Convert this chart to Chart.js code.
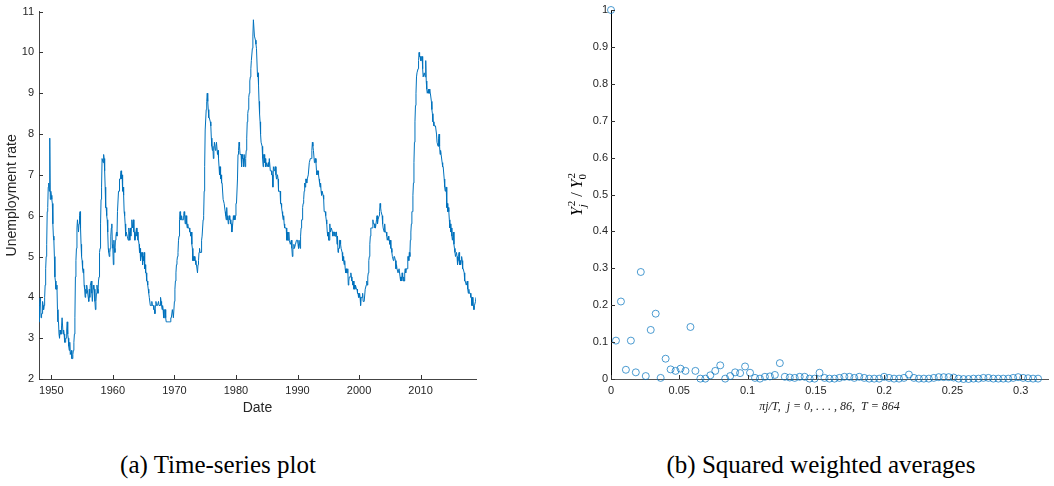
<!DOCTYPE html>
<html>
<head>
  <meta name="viewport" content="width=device-width, initial-scale=1.0">
  <title>Unemployment rate and squared weighted averages</title>
  <script src="https://cdn.jsdelivr.net/npm/chart.js"></script>
  <style>
    body {
      margin: 0;
      padding: 0;
      background: #fff;
      width: 1054px;
      height: 486px;
      position: relative;
      overflow: hidden;
    }
    .panel {
      position: absolute;
      top: 0;
    }
    .caption {
      position: absolute;
      top: 451px;
      font-family: "Liberation Serif", "DejaVu Serif", serif;
      font-size: 25px;
      color: #000;
      white-space: nowrap;
      transform: translateX(-50%);
    }
  </style>
</head>
<body>
  <canvas id="tsChart" class="panel" width="500" height="430" style="left:0"></canvas>
  <canvas id="avgChart" class="panel" width="514" height="430" style="left:540px"></canvas>
  <div class="caption" style="left:218px">(a) Time-series plot</div>
  <div class="caption" style="left:821px">(b) Squared weighted averages</div>

  <script>
    // monthly unemployment rate, Jan 1948 .. Jan 2019
    const startYear = 1948;
    const unrate = [
      3.4, 3.8, 4.0, 3.9, 3.5, 3.6, 3.6, 3.9, 3.8, 3.7, 3.8, 4.0,   // 1948
      4.3, 4.7, 5.0, 5.3, 6.1, 6.2, 6.7, 6.8, 6.6, 7.9, 6.4, 6.6,   // 1949
      6.5, 6.4, 6.3, 5.8, 5.5, 5.4, 5.0, 4.5, 4.4, 4.2, 4.2, 4.3,   // 1950
      3.7, 3.4, 3.4, 3.1, 3.0, 3.2, 3.1, 3.1, 3.3, 3.5, 3.5, 3.1,   // 1951
      3.2, 3.1, 2.9, 2.9, 3.0, 3.0, 3.2, 3.4, 3.1, 3.0, 2.8, 2.7,   // 1952
      2.9, 2.6, 2.6, 2.7, 2.5, 2.5, 2.6, 2.7, 2.9, 3.1, 3.5, 4.5,   // 1953
      4.9, 5.2, 5.7, 5.9, 5.9, 5.6, 5.8, 6.0, 6.1, 5.7, 5.3, 5.0,   // 1954
      4.9, 4.7, 4.6, 4.7, 4.3, 4.2, 4.0, 4.2, 4.1, 4.3, 4.2, 4.2,   // 1955
      4.0, 3.9, 4.2, 4.0, 4.3, 4.3, 4.4, 4.1, 3.9, 3.9, 4.3, 4.2,   // 1956
      4.2, 3.9, 3.7, 3.9, 4.1, 4.3, 4.2, 4.1, 4.4, 4.5, 5.1, 5.2,   // 1957
      5.8, 6.4, 6.7, 7.4, 7.4, 7.3, 7.5, 7.4, 7.1, 6.7, 6.2, 6.2,   // 1958
      6.0, 5.9, 5.6, 5.2, 5.1, 5.0, 5.1, 5.2, 5.5, 5.7, 5.8, 5.3,   // 1959
      5.2, 4.8, 5.4, 5.2, 5.1, 5.4, 5.5, 5.6, 5.5, 6.1, 6.1, 6.6,   // 1960
      6.6, 6.9, 6.9, 7.0, 7.1, 6.9, 7.0, 6.6, 6.7, 6.5, 6.1, 6.0,   // 1961
      5.8, 5.5, 5.6, 5.6, 5.5, 5.5, 5.4, 5.7, 5.6, 5.4, 5.7, 5.5,   // 1962
      5.7, 5.9, 5.7, 5.7, 5.9, 5.6, 5.6, 5.4, 5.5, 5.5, 5.7, 5.5,   // 1963
      5.6, 5.4, 5.4, 5.3, 5.1, 5.2, 4.9, 5.0, 5.1, 5.1, 4.8, 5.0,   // 1964
      4.9, 5.1, 4.7, 4.8, 4.6, 4.6, 4.4, 4.4, 4.3, 4.2, 4.1, 4.0,   // 1965
      4.0, 3.8, 3.8, 3.8, 3.9, 3.8, 3.8, 3.8, 3.7, 3.7, 3.6, 3.8,   // 1966
      3.9, 3.8, 3.8, 3.8, 3.8, 3.9, 3.8, 3.8, 3.8, 4.0, 3.9, 3.8,   // 1967
      3.7, 3.8, 3.7, 3.5, 3.5, 3.7, 3.7, 3.5, 3.4, 3.4, 3.4, 3.4,   // 1968
      3.4, 3.4, 3.4, 3.4, 3.4, 3.5, 3.5, 3.5, 3.7, 3.7, 3.5, 3.5,   // 1969
      3.9, 4.2, 4.4, 4.6, 4.8, 4.9, 5.0, 5.1, 5.4, 5.5, 5.9, 6.1,   // 1970
      5.9, 5.9, 6.0, 5.9, 5.9, 5.9, 6.0, 6.1, 6.0, 5.8, 6.0, 6.0,   // 1971
      5.8, 5.7, 5.8, 5.7, 5.7, 5.7, 5.6, 5.6, 5.5, 5.6, 5.3, 5.2,   // 1972
      4.9, 5.0, 4.9, 5.0, 4.9, 4.9, 4.8, 4.8, 4.8, 4.6, 4.8, 4.9,   // 1973
      5.1, 5.2, 5.1, 5.1, 5.1, 5.4, 5.5, 5.5, 5.9, 6.0, 6.6, 7.2,   // 1974
      8.1, 8.1, 8.6, 8.8, 9.0, 8.8, 8.6, 8.4, 8.4, 8.4, 8.3, 8.2,   // 1975
      7.9, 7.7, 7.6, 7.7, 7.4, 7.6, 7.8, 7.8, 7.6, 7.7, 7.8, 7.8,   // 1976
      7.5, 7.6, 7.4, 7.2, 7.0, 7.2, 6.9, 7.0, 6.8, 6.8, 6.8, 6.4,   // 1977
      6.4, 6.3, 6.3, 6.1, 6.0, 5.9, 6.2, 5.9, 6.0, 5.8, 5.9, 6.0,   // 1978
      5.9, 5.9, 5.8, 5.8, 5.6, 5.7, 5.7, 6.0, 5.9, 6.0, 5.9, 6.0,   // 1979
      6.3, 6.3, 6.3, 6.9, 7.5, 7.6, 7.8, 7.7, 7.5, 7.5, 7.5, 7.2,   // 1980
      7.5, 7.4, 7.4, 7.2, 7.5, 7.5, 7.2, 7.4, 7.6, 7.9, 8.3, 8.5,   // 1981
      8.6, 8.9, 9.0, 9.3, 9.4, 9.6, 9.8, 9.8, 10.1, 10.4, 10.8, 10.8, // 1982
      10.4, 10.4, 10.3, 10.2, 10.1, 10.1, 9.4, 9.5, 9.2, 8.8, 8.5, 8.3, // 1983
      8.0, 7.8, 7.8, 7.7, 7.4, 7.2, 7.5, 7.5, 7.3, 7.4, 7.2, 7.3,   // 1984
      7.3, 7.2, 7.2, 7.3, 7.2, 7.4, 7.4, 7.1, 7.1, 7.1, 7.0, 7.0,   // 1985
      6.7, 7.2, 7.2, 7.1, 7.2, 7.2, 7.0, 6.9, 7.0, 7.0, 6.9, 6.6,   // 1986
      6.6, 6.6, 6.6, 6.3, 6.3, 6.2, 6.1, 6.0, 5.9, 6.0, 5.8, 5.7,   // 1987
      5.7, 5.7, 5.7, 5.4, 5.6, 5.4, 5.4, 5.6, 5.4, 5.4, 5.3, 5.3,   // 1988
      5.4, 5.2, 5.0, 5.2, 5.2, 5.3, 5.2, 5.2, 5.3, 5.3, 5.4, 5.4,   // 1989
      5.4, 5.3, 5.2, 5.4, 5.4, 5.2, 5.5, 5.7, 5.9, 5.9, 6.2, 6.3,   // 1990
      6.4, 6.6, 6.8, 6.7, 6.9, 6.9, 6.8, 6.9, 6.9, 7.0, 7.0, 7.3,   // 1991
      7.3, 7.4, 7.4, 7.4, 7.6, 7.8, 7.7, 7.6, 7.6, 7.3, 7.4, 7.4,   // 1992
      7.3, 7.1, 7.0, 7.1, 7.1, 7.0, 6.9, 6.8, 6.7, 6.8, 6.6, 6.5,   // 1993
      6.6, 6.6, 6.5, 6.4, 6.1, 6.1, 6.1, 6.0, 5.9, 5.8, 5.6, 5.5,   // 1994
      5.6, 5.4, 5.4, 5.8, 5.6, 5.6, 5.7, 5.7, 5.6, 5.5, 5.6, 5.6,   // 1995
      5.6, 5.5, 5.5, 5.6, 5.6, 5.3, 5.5, 5.1, 5.2, 5.2, 5.4, 5.4,   // 1996
      5.3, 5.2, 5.2, 5.1, 4.9, 5.0, 4.9, 4.8, 4.9, 4.7, 4.6, 4.7,   // 1997
      4.6, 4.6, 4.7, 4.3, 4.4, 4.5, 4.5, 4.5, 4.6, 4.5, 4.4, 4.4,   // 1998
      4.3, 4.4, 4.2, 4.3, 4.2, 4.3, 4.3, 4.2, 4.2, 4.1, 4.1, 4.0,   // 1999
      4.0, 4.1, 4.0, 3.8, 4.0, 4.0, 4.0, 4.1, 3.9, 3.9, 3.9, 3.9,   // 2000
      4.2, 4.2, 4.3, 4.4, 4.3, 4.5, 4.6, 4.9, 5.0, 5.3, 5.5, 5.7,   // 2001
      5.7, 5.7, 5.7, 5.9, 5.8, 5.8, 5.8, 5.7, 5.7, 5.7, 5.9, 6.0,   // 2002
      5.8, 5.9, 5.9, 6.0, 6.1, 6.3, 6.2, 6.1, 6.1, 6.0, 5.8, 5.7,   // 2003
      5.7, 5.6, 5.8, 5.6, 5.6, 5.6, 5.5, 5.4, 5.4, 5.5, 5.4, 5.4,   // 2004
      5.3, 5.4, 5.2, 5.2, 5.1, 5.0, 5.0, 4.9, 5.0, 5.0, 5.0, 4.9,   // 2005
      4.7, 4.8, 4.7, 4.7, 4.6, 4.6, 4.7, 4.7, 4.5, 4.4, 4.5, 4.4,   // 2006
      4.6, 4.5, 4.4, 4.5, 4.4, 4.6, 4.7, 4.6, 4.7, 4.7, 4.7, 5.0,   // 2007
      5.0, 4.9, 5.1, 5.0, 5.4, 5.6, 5.8, 6.1, 6.1, 6.5, 6.8, 7.3,   // 2008
      7.8, 8.3, 8.7, 9.0, 9.4, 9.5, 9.5, 9.6, 9.8, 10.0, 9.9, 9.9,  // 2009
      9.8, 9.8, 9.9, 9.9, 9.6, 9.4, 9.4, 9.5, 9.5, 9.4, 9.8, 9.3,   // 2010
      9.1, 9.0, 9.0, 9.1, 9.0, 9.1, 9.0, 9.0, 9.0, 8.8, 8.6, 8.5,   // 2011
      8.3, 8.3, 8.2, 8.2, 8.2, 8.2, 8.2, 8.0, 7.8, 7.8, 7.7, 7.9,   // 2012
      8.0, 7.7, 7.5, 7.6, 7.5, 7.5, 7.3, 7.2, 7.2, 7.2, 6.9, 6.7,   // 2013
      6.6, 6.7, 6.7, 6.2, 6.3, 6.1, 6.2, 6.1, 5.9, 5.7, 5.8, 5.6,   // 2014
      5.7, 5.5, 5.4, 5.4, 5.6, 5.3, 5.2, 5.1, 5.0, 5.0, 5.1, 5.0,   // 2015
      4.8, 4.9, 5.0, 5.1, 4.8, 4.9, 4.8, 4.9, 5.0, 4.9, 4.7, 4.7,   // 2016
      4.7, 4.6, 4.4, 4.4, 4.4, 4.3, 4.3, 4.4, 4.2, 4.1, 4.2, 4.1,   // 2017
      4.1, 4.1, 4.0, 4.0, 3.8, 4.0, 3.8, 3.8, 3.7, 3.8, 3.8, 3.9,   // 2018
      4.0                                                          // 2019
    ];
    const yearTicks = [1950, 1960, 1970, 1980, 1990, 2000, 2010];
    const rateTicks = [2, 3, 4, 5, 6, 7, 8, 9, 10, 11];

    // squared weighted averages Y_j^2 / Y_0^2, j = 0..86, T = 864
    const T = 864;
    const ratio = [
      1.000, 0.104, 0.210, 0.025, 0.104, 0.018, 0.290, 0.008, 0.133, 0.177,
      0.003, 0.055, 0.026, 0.022, 0.028, 0.022, 0.141, 0.022, 0.001, 0.001,
      0.010, 0.022, 0.037, 0.001, 0.008, 0.018, 0.016, 0.034, 0.017, 0.003,
      0.001, 0.006, 0.007, 0.011, 0.043, 0.006, 0.004, 0.003, 0.006, 0.006,
      0.001, 0.001, 0.017, 0.003, 0.001, 0.001, 0.003, 0.006, 0.006, 0.003,
      0.006, 0.003, 0.001, 0.001, 0.001, 0.006, 0.003, 0.001, 0.001, 0.003,
      0.012, 0.003, 0.001, 0.001, 0.001, 0.003, 0.005, 0.005, 0.005, 0.004,
      0.001, 0.000, 0.000, 0.001, 0.001, 0.003, 0.003, 0.001, 0.001, 0.001,
      0.001, 0.003, 0.005, 0.003, 0.002, 0.001, 0.001
    ];
    const freqTicks = [0, 0.05, 0.1, 0.15, 0.2, 0.25, 0.3];
    const ratioTicks = [0, 0.1, 0.2, 0.3, 0.4, 0.5, 0.6, 0.7, 0.8, 0.9, 1];

    const lineColor = '#0072BD';
    const textColor = '#262626';
    const sans = "'Liberation Sans', Arial, sans-serif";
    const serif = "'Liberation Serif', 'DejaVu Serif', serif";

    // MATLAB style tick marks, pointing into the plot
    const inwardTicks = {
      id: 'inwardTicks',
      afterDatasetsDraw(chart) {
        const {ctx, chartArea, scales} = chart;
        ctx.save();
        ctx.strokeStyle = '#333';
        ctx.lineWidth = 1;
        scales.x.ticks.forEach(t => {
          const px = Math.round(scales.x.getPixelForValue(t.value)) + 0.5;
          ctx.beginPath();
          ctx.moveTo(px, chartArea.bottom);
          ctx.lineTo(px, chartArea.bottom - 4);
          ctx.stroke();
        });
        scales.y.ticks.forEach(t => {
          const py = Math.round(scales.y.getPixelForValue(t.value)) + 0.5;
          ctx.beginPath();
          ctx.moveTo(chartArea.left, py);
          ctx.lineTo(chartArea.left + 4, py);
          ctx.stroke();
        });
        ctx.restore();
      }
    };

    function fixedTicks(list) {
      return scale => { scale.ticks = list.map(v => ({value: v})); };
    }

    // left: time series
    new Chart(document.getElementById('tsChart'), {
      type: 'line',
      data: {
        datasets: [{
          data: unrate.map((v, i) => ({x: startYear + i / 12, y: v})),
          borderColor: lineColor,
          borderWidth: 1,
          pointRadius: 0,
          tension: 0
        }]
      },
      options: {
        responsive: false,
        animation: false,
        devicePixelRatio: 1,
        layout: {padding: {top: 10, right: 24, bottom: 0, left: 0}},
        plugins: {legend: {display: false}, tooltip: {enabled: false}},
        scales: {
          x: {
            type: 'linear',
            min: startYear,
            max: startYear + (unrate.length - 1) / 12,
            afterBuildTicks: fixedTicks(yearTicks),
            afterFit: s => { s.height = 51; },
            grid: {display: true, drawOnChartArea: false, drawTicks: false},
            border: {display: true, color: '#444', width: 1},
            ticks: {
              padding: 5, color: textColor, font: {family: sans, size: 11},
              maxRotation: 0, callback: v => String(v)
            },
            title: {
              display: true, text: 'Date', color: textColor,
              font: {family: sans, size: 14}, padding: {top: 0, bottom: 13}
            }
          },
          y: {
            min: 2,
            max: 11,
            afterBuildTicks: fixedTicks(rateTicks),
            afterFit: s => { s.width = 39; },
            grid: {display: true, drawOnChartArea: false, drawTicks: false},
            border: {display: true, color: '#444', width: 1},
            ticks: {padding: 5, color: textColor, font: {family: sans, size: 11}},
            title: {
              display: true, text: 'Unemployment rate', color: textColor,
              font: {family: sans, size: 14}, padding: {top: 4, bottom: 0}
            }
          }
        }
      },
      plugins: [inwardTicks]
    });

    // rotated math label Y_j^2 / Y_0^2
    const mathLabel = {
      id: 'mathLabel',
      afterDraw(chart) {
        const ctx = chart.ctx;
        const big = 'italic 16px ' + serif;
        const small = '11px ' + serif;
        const smallIt = 'italic 11px ' + serif;
        const parts = [
          {t: 'Y', f: big, dy: 0},
          {t: '2', f: small, dy: -7, stack: 'j', sf: smallIt},
          {t: ' / ', f: '16px ' + serif, dy: 0},
          {t: 'Y', f: big, dy: 0},
          {t: '2', f: small, dy: -7, stack: '0', sf: small}
        ];
        ctx.save();
        let width = 0;
        parts.forEach(p => { ctx.font = p.f; p.w = ctx.measureText(p.t).width + (p.stack ? 1 : 0); width += p.w; });
        const cy = (chart.chartArea.top + chart.chartArea.bottom) / 2;
        ctx.translate(37, cy);
        ctx.rotate(-Math.PI / 2);
        ctx.fillStyle = '#000';
        ctx.textBaseline = 'alphabetic';
        let x = -width / 2;
        parts.forEach(p => {
          ctx.font = p.f;
          ctx.fillText(p.t, x + (p.stack ? 1 : 0), 5 + p.dy);
          if (p.stack) {
            ctx.font = p.sf;
            ctx.fillText(p.stack, x, 5 + 4);
          }
          x += p.w;
        });
        ctx.restore();
      }
    };

    // right: squared weighted averages
    new Chart(document.getElementById('avgChart'), {
      type: 'scatter',
      data: {
        datasets: [{
          data: ratio.map((v, j) => ({x: Math.PI * j / T, y: v})),
          borderColor: 'rgba(0, 114, 189, 0.7)',
          backgroundColor: 'rgba(0, 0, 0, 0)',
          borderWidth: 1,
          pointRadius: 3.5,
          clip: false
        }]
      },
      options: {
        responsive: false,
        animation: false,
        devicePixelRatio: 1,
        layout: {padding: {top: 10, right: 6, bottom: 0, left: 0}},
        plugins: {legend: {display: false}, tooltip: {enabled: false}},
        scales: {
          x: {
            type: 'linear',
            min: 0,
            max: 0.32,
            afterBuildTicks: fixedTicks(freqTicks),
            afterFit: s => { s.height = 51; },
            grid: {display: true, drawOnChartArea: false, drawTicks: false},
            border: {display: true, color: '#555', width: 1},
            ticks: {
              padding: 5, color: textColor, font: {family: sans, size: 11},
              maxRotation: 0, callback: v => String(v)
            },
            title: {
              display: true, text: 'πj/T,  j = 0, . . . , 86,  T = 864', color: '#222',
              font: {family: serif, size: 12, style: 'italic'}, padding: {top: 0, bottom: 16}
            }
          },
          y: {
            min: 0,
            max: 1,
            afterBuildTicks: fixedTicks(ratioTicks),
            afterFit: s => { s.width = 71; },
            grid: {display: true, drawOnChartArea: false, drawTicks: false},
            border: {display: true, color: '#000', width: 1},
            ticks: {padding: 3, color: textColor, font: {family: sans, size: 11}, callback: v => String(v)}
          }
        }
      },
      plugins: [inwardTicks, mathLabel]
    });
  </script>
</body>
</html>
